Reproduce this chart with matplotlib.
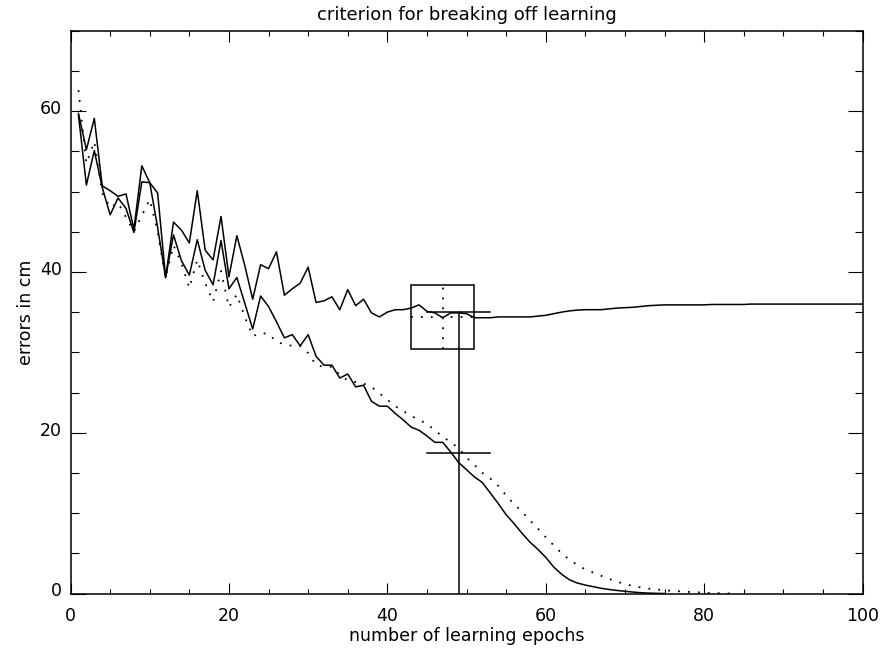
import numpy as np
import matplotlib
matplotlib.use("Agg")
import matplotlib.pyplot as plt
from matplotlib.patches import Rectangle
from matplotlib.ticker import MultipleLocator
from matplotlib.transforms import ScaledTranslation

# errors in cm per learning epoch
val_err = [
    59.7, 55.2, 59.1, 50.7, 50.1, 49.4, 49.7, 45.3, 53.2, 51.1,
    49.8, 39.3, 46.2, 45.2, 43.6, 50.1, 42.7, 41.5, 46.9, 39.4,
    44.5, 40.8, 36.6, 40.9, 40.4, 42.5, 37.1, 37.9, 38.6, 40.6,
    36.2, 36.4, 36.9, 35.3, 37.8, 35.8, 36.6, 34.9, 34.4, 35.0,
    35.3, 35.3, 35.5, 35.9, 35.1, 34.9, 34.3, 34.9, 34.9, 34.8,
    34.3, 34.3, 34.3, 34.4, 34.4, 34.4, 34.4, 34.4, 34.5, 34.6,
    34.8, 35.0, 35.15, 35.25, 35.3, 35.3, 35.3, 35.4, 35.5, 35.55,
    35.6, 35.7, 35.8, 35.85, 35.9, 35.9, 35.9, 35.9, 35.9, 35.9,
    35.95, 35.95, 35.95, 35.95, 35.95, 36.0, 36.0, 36.0, 36.0, 36.0,
    36.0, 36.0, 36.0, 36.0, 36.0, 36.0, 36.0, 36.0, 36.0, 36.0,
]

train_err = [
    59.5, 50.8, 55.1, 50.5, 47.1, 49.2, 47.9, 44.9, 51.2, 51.1,
    45.5, 39.3, 44.6, 41.4, 39.6, 44.0, 40.2, 38.4, 43.9, 37.9,
    39.3, 36.1, 32.9, 37.0, 35.7, 33.8, 31.8, 32.2, 30.8, 32.2,
    29.5, 28.4, 28.4, 26.8, 27.3, 25.7, 25.9, 23.9, 23.3, 23.3,
    22.4, 21.6, 20.7, 20.3, 19.6, 18.8, 18.8, 17.6, 16.3, 15.4,
    14.5, 13.8, 12.5, 11.2, 9.8, 8.7, 7.5, 6.4, 5.5, 4.5,
    3.3, 2.4, 1.7, 1.3, 1.05, 0.85, 0.65, 0.5, 0.38, 0.28,
    0.18, 0.1, 0.05, 0.02, 0.0,
]

smooth_err = [
    62.6, 53.5, 56.2, 49.8, 48.0, 48.6, 46.8, 45.0, 47.0, 49.0,
    45.0, 39.3, 43.3, 41.1, 38.0, 41.5, 38.6, 36.3, 40.1, 35.6,
    37.2, 34.4, 32.0, 32.4, 32.3, 31.3, 31.0, 30.8, 30.8, 29.9,
    28.4, 28.2, 28.2, 27.2, 26.5, 26.3, 26.1, 25.7, 24.9, 24.1,
    23.3, 22.7, 22.1, 21.6, 21.1, 20.3, 19.5, 18.8, 18.1, 16.9,
    16.0, 15.0, 14.3, 13.4, 12.2, 11.1, 10.2, 9.1, 8.1, 7.0,
    6.0, 5.0, 4.2, 3.55, 3.0, 2.6, 2.2, 1.8, 1.5, 1.15,
    0.95, 0.75, 0.6, 0.5, 0.4, 0.33, 0.27, 0.2, 0.15, 0.1,
    0.07, 0.04, 0.02, 0.0,
]

# break-off criterion markers
stop_epoch = 49
stop_val = 35.0
half_val = 17.5
cross_halfwidth = 4
box_center = (47, 34.4)
box_halfsize = 4

plt.rcParams["font.family"] = "DejaVu Sans"

fig = plt.figure(figsize=(8.84, 6.49), dpi=100)
ax = fig.add_axes([0.0798, 0.0855, 0.8959, 0.8672])

lw = 1.1
dots = (0, (1, 4.5))
ax.plot(np.arange(1, len(val_err) + 1), val_err, color="black", lw=lw)
ax.plot(np.arange(1, len(train_err) + 1), train_err, color="black", lw=lw)
ax.plot(np.arange(1, len(smooth_err) + 1), smooth_err, color="black",
        lw=1.3, linestyle=dots)

# criterion: vertical line and two crosses
ax.plot([stop_epoch, stop_epoch], [0, stop_val], color="black", lw=lw)
ax.plot([stop_epoch - cross_halfwidth, stop_epoch + cross_halfwidth],
        [stop_val, stop_val], color="black", lw=lw)
ax.plot([stop_epoch - cross_halfwidth, stop_epoch + cross_halfwidth],
        [half_val, half_val], color="black", lw=lw)

# box around the minimum with dotted crosshair
bx, by = box_center
ax.add_patch(Rectangle((bx - box_halfsize, by - box_halfsize),
                       2 * box_halfsize, 2 * box_halfsize,
                       fill=False, edgecolor="black", lw=lw))
ax.plot([bx - box_halfsize, bx + box_halfsize], [by, by], color="black",
        lw=1.3, linestyle=dots)
ax.plot([bx, bx], [by - box_halfsize, by + box_halfsize], color="black",
        lw=1.3, linestyle=dots)

ax.set_xlim(0, 100)
ax.set_ylim(0, 70)
ax.xaxis.set_major_locator(MultipleLocator(20))
ax.xaxis.set_minor_locator(MultipleLocator(5))
ax.yaxis.set_major_locator(MultipleLocator(20))
ax.yaxis.set_minor_locator(MultipleLocator(5))

ax.tick_params(axis="both", which="both", direction="in",
               top=True, right=True, width=0.8, labelsize=12.5)
ax.tick_params(axis="x", which="major", length=7.7, pad=10)
ax.tick_params(axis="x", which="minor", length=3.8)
ax.tick_params(axis="y", which="major", length=11, pad=6)
ax.tick_params(axis="y", which="minor", length=5.5)
for s in ax.spines.values():
    s.set_linewidth(1.1)

# y tick labels sit a little above their ticks in the original
shift_up = ScaledTranslation(0, 3 / 72, fig.dpi_scale_trans)
for lbl in ax.get_yticklabels():
    lbl.set_transform(lbl.get_transform() + shift_up)

ax.set_xlabel("number of learning epochs", fontsize=12.5, labelpad=1)
ax.set_ylabel("errors in cm", fontsize=12.5, labelpad=4)
ax.set_title("criterion for breaking off learning", fontsize=13, pad=8)

fig.savefig("out.png", dpi=100)
